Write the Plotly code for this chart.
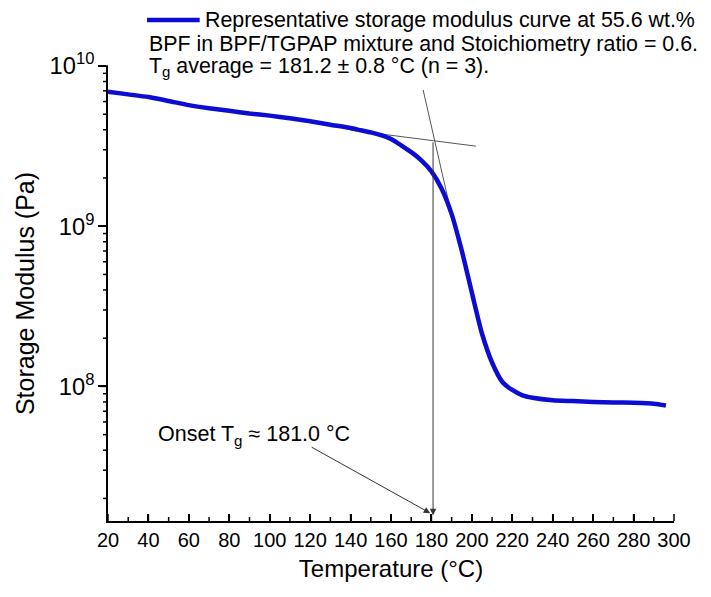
import math
import plotly.graph_objects as go

# Storage modulus curve (temperature in degC, modulus in Pa)
temperature = [20, 30, 40, 50, 60, 70, 80, 90, 100, 110, 120, 130, 140, 145, 150,
               155, 160, 165, 170, 175, 180, 185, 190, 195, 200, 205, 210, 215,
               220, 225, 230, 240, 250, 260, 270, 280, 290, 296]
storage_modulus = [6.9e9, 6.65e9, 6.4e9, 6.05e9, 5.7e9, 5.45e9, 5.25e9, 5.05e9, 4.9e9,
                   4.72e9, 4.52e9, 4.3e9, 4.1e9, 3.97e9, 3.85e9, 3.7e9, 3.5e9, 3.2e9,
                   2.9e9, 2.58e9, 2.2e9, 1.72e9, 1.19e9, 7.05e8, 3.85e8, 2.14e8, 1.41e8,
                   1.07e8, 9.5e7, 8.8e7, 8.5e7, 8.2e7, 8.1e7, 8.0e7, 7.95e7, 7.9e7,
                   7.8e7, 7.6e7]

# tangent lines used for the onset construction
glassy_tangent_T = [140, 202]
glassy_tangent_E = [3.98e9, 3.16e9]
drop_tangent_T = [175.9, 188.3]
drop_tangent_E = [7.08e9, 1.46e9]

onset_T = 180.8

# axis ranges and tick positions
x_range = [20, 300]
y_range_log = [7.16, 10]
x_major = list(range(20, 301, 20))
x_minor = list(range(30, 300, 20))
y_major = [1e8, 1e9, 1e10]
y_minor = [m * 10 ** d for d in (7, 8, 9) for m in range(2, 10)]

FONT = "Liberation Sans, Arial, sans-serif"
BLUE = "#0c0cd2"
GREY = "#555555"
INK = "#000000"

# plot area size in px (used to turn tick lengths into paper fractions)
PW, PH = 711 - 108 - 37, 597 - 66 - 76

fig = go.Figure()

fig.add_trace(go.Scatter(x=glassy_tangent_T, y=glassy_tangent_E, mode="lines",
                         line=dict(color=GREY, width=1), showlegend=False))
fig.add_trace(go.Scatter(x=drop_tangent_T, y=drop_tangent_E, mode="lines",
                         line=dict(color=GREY, width=1), showlegend=False))
fig.add_trace(go.Scatter(x=temperature, y=storage_modulus, mode="lines",
                         line=dict(color=BLUE, width=4.5, shape="spline", smoothing=0.6),
                         showlegend=False, name="Representative storage modulus curve"))

# tick marks (x inside, y outside)
def xpaper(t):
    return (t - x_range[0]) / (x_range[1] - x_range[0])

def ypaper(v):
    return (math.log10(v) - y_range_log[0]) / (y_range_log[1] - y_range_log[0])

for t, ln in [(t, 7) for t in x_major] + [(t, 4) for t in x_minor]:
    fig.add_shape(type="line", xref="paper", yref="paper", x0=xpaper(t), x1=xpaper(t),
                  y0=0, y1=ln / PH, line=dict(color=INK, width=1.5), layer="above")
for v, ln in [(v, 8) for v in y_major] + [(v, 5) for v in y_minor]:
    if ypaper(v) < 0:
        continue
    fig.add_shape(type="line", xref="paper", yref="paper", x0=-ln / PW, x1=0,
                  y0=ypaper(v), y1=ypaper(v), line=dict(color=INK, width=1.5), layer="above")

# legend-like text at the top
fig.add_shape(type="line", xref="paper", yref="paper", x0=0.069, x1=0.162,
              y0=1.101, y1=1.101, line=dict(color=BLUE, width=4.5))
top_lines = [
    (0.168, 1.101, "Representative storage modulus curve at 55.6 wt.%"),
    (0.069, 1.048, "BPF in BPF/TGPAP mixture and Stoichiometry ratio = 0.6."),
    (0.069, 0.997, "T<sub>g</sub> average = 181.2 ± 0.8 °C (n = 3)."),
]
for x, y, txt in top_lines:
    fig.add_annotation(x=x, y=y, xref="paper", yref="paper", text=txt,
                       showarrow=False, xanchor="left", yanchor="middle",
                       font=dict(family=FONT, size=21.4, color="black"))

# vertical arrow from tangent intersection down to the axis
fig.add_annotation(x=onset_T, y=7.196, ax=onset_T, ay=9.533, xref="x", yref="y",
                   axref="x", ayref="y", text="", showarrow=True, arrowhead=2,
                   arrowsize=1.3, arrowwidth=1, arrowcolor="#333333", standoff=0)

# onset label + arrow
fig.add_annotation(x=43.5, y=7.695, xref="x", yref="y",
                   text="Onset T<sub>g</sub> ≈ 181.0 °C", showarrow=False,
                   xanchor="left", yanchor="middle",
                   font=dict(family=FONT, size=21.5, color="black"))
fig.add_annotation(x=179.4, y=7.209, ax=120, ay=7.626, xref="x", yref="y",
                   axref="x", ayref="y", text="", showarrow=True, arrowhead=2,
                   arrowsize=1.3, arrowwidth=1, arrowcolor="#333333", standoff=0)

fig.update_layout(
    width=711, height=597,
    margin=dict(l=108, r=37, t=66, b=76),
    paper_bgcolor="white", plot_bgcolor="white",
    xaxis=dict(
        range=x_range, tickvals=x_major, automargin=False,
        showline=True, linecolor=INK, linewidth=1.5,
        ticks="inside", ticklen=7, tickwidth=1.5, tickcolor=INK,
        showgrid=False, zeroline=False,
        tickfont=dict(family=FONT, size=20, color=INK),
        title=dict(text="Temperature (°C)", font=dict(family=FONT, size=24, color=INK),
                   standoff=10),
    ),
    yaxis=dict(
        type="log", range=y_range_log, dtick=1, exponentformat="power", automargin=False,
        showline=True, linecolor=INK, linewidth=1.5,
        ticks="outside", ticklen=8, tickwidth=1.5, tickcolor=INK,
        showgrid=False, zeroline=False,
        tickfont=dict(family=FONT, size=19, color=INK),
        title=dict(text="Storage Modulus (Pa)", font=dict(family=FONT, size=25, color=INK),
                   standoff=8),
    ),
)

# drop the browser's default 8px body margin so the figure sits at the page origin
fig.write_html("out.html", post_script="document.body.style.margin='0';",
               config={"displayModeBar": False})
